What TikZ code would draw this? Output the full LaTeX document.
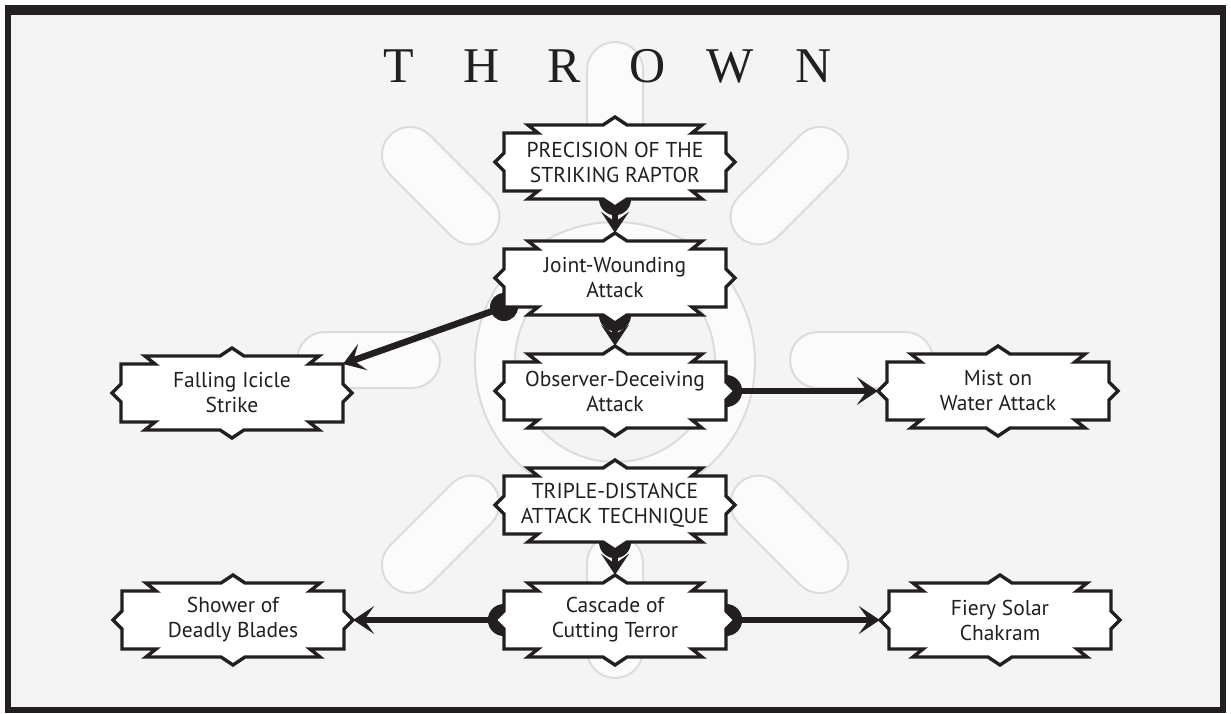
\documentclass[tikz,border=0pt]{standalone}
\usepackage{fontspec}
\setmainfont{Liberation Serif}
\newfontfamily\boxfont{PT Sans}
\usetikzlibrary{arrows.meta,calc}
\definecolor{ink}{HTML}{231F20}
\definecolor{paper}{HTML}{F4F4F4}
\definecolor{markedge}{HTML}{DCDCDC}
\definecolor{markfill}{HTML}{FBFBFB}
\pgfdeclarelayer{marks}
\pgfdeclarelayer{knobs}
\pgfdeclarelayer{shapes}
\pgfsetlayers{marks,knobs,shapes,main}
\def\scW{111}\def\scH{29}\def\scA{24}\def\scB{34}\def\scE{8}\def\scP{8}\def\scQ{12}\def\scD{9}\def\scS{9}
\tikzset{
  scrollline/.style={draw=ink, line width=3.4pt, fill=white, line join=miter},
  scrolltext/.style={font=\boxfont\fontsize{21.5}{25}\selectfont, text=ink, align=center,
    inner sep=0pt, minimum width=240pt, minimum height=90pt},
  link/.style={draw=ink, line width=6.5pt, -{Stealth[length=21pt,width=28pt,inset=10pt]}},
  knob/.style={fill=ink},
  capsule/.style={fill=markfill, draw=markedge, line width=2pt, rounded corners=27.9pt},
}
\newcommand\scroll[3]{%
  \node[scrolltext] (#1) at (#2) {#3};
  \begin{pgfonlayer}{shapes}
  \path[scrollline, shift={(#1.center)}]
    (-\scW,-\scH) -- (-\scW+\scB,-\scH) -- (-\scW+\scA,-\scH-\scE) -- (-\scQ,-\scH-\scE)
    -- (0,-\scH-\scE-\scP) -- (\scQ,-\scH-\scE) -- (\scW-\scA,-\scH-\scE) -- (\scW-\scB,-\scH)
    -- (\scW,-\scH) -- (\scW,-\scS) -- (\scW+\scD,0) -- (\scW,\scS) -- (\scW,\scH)
    -- (\scW-\scB,\scH) -- (\scW-\scA,\scH+\scE) -- (\scQ,\scH+\scE) -- (0,\scH+\scE+\scP)
    -- (-\scQ,\scH+\scE) -- (-\scW+\scA,\scH+\scE) -- (-\scW+\scB,\scH) -- (-\scW,\scH)
    -- (-\scW,\scS) -- (-\scW-\scD,0) -- (-\scW,-\scS) -- cycle;
  \end{pgfonlayer}}
\begin{document}
\begin{tikzpicture}[x=1pt,y=-1pt]
\useasboundingbox (0,0) rectangle (1231,713);
\begin{pgfonlayer}{marks}
  \fill[white] (0,0) rectangle (1231,713);
  \fill[ink] (5,5) rectangle (1226,713);
  \fill[paper] (11,15) rectangle (1220,707);
  \foreach \ang in {0,45,...,315}{
    \begin{scope}[shift={(615,360)}, rotate=\ang]
      \path[capsule] (175,-28) rectangle (318,28);
    \end{scope}}
  \path[fill=markfill, even odd rule] (615,362) circle (140) (615,362) circle (100);
  \draw[markedge, line width=2pt] (615,362) circle (140) (615,362) circle (100);
\end{pgfonlayer}

\node[text=ink, font=\fontsize{50}{50}\selectfont] (title) at (606,66)
  {\makebox[83pt]{T}\makebox[83pt]{H}\makebox[83pt]{R}\makebox[83pt]{O}\makebox[83pt]{W}\makebox[83pt]{N}};

\scroll{A}{615,162}{PRECISION OF THE\\STRIKING RAPTOR}
\scroll{B}{615,278}{Joint-Wounding\\Attack}
\scroll{C}{615,391}{Observer-Deceiving\\Attack}
\scroll{D}{232,393}{Falling Icicle\\Strike}
\scroll{E}{998,391}{Mist on\\Water Attack}
\scroll{F}{615,505}{TRIPLE-DISTANCE\\ATTACK TECHNIQUE}
\scroll{G}{615,620}{Cascade of\\Cutting Terror}
\scroll{H}{233,620}{Shower of\\Deadly Blades}
\scroll{I}{1000,620}{Fiery Solar\\Chakram}

\begin{pgfonlayer}{knobs}
  \fill[knob] ($(A.south)+(0,-8)$) circle (16);
  \fill[knob] ($(B.south)+(0,-8)$) circle (16);
  \fill[knob] ($(F.south)+(0,-8)$) circle (16);
  \fill[knob] ($(C.east)+(-9,0)$) circle (16);
  \fill[knob] ($(G.east)+(-9,0)$) circle (16);
  \fill[knob] ($(G.west)+(9,0)$) circle (16);
  \fill[knob] ($(B.center)+(-111,29)$) circle (14);
\end{pgfonlayer}

\draw[link] (A.south) -- (B.north);
\draw[link] (B.south) -- (C.north);
\draw[link] ($(B.center)+(-111,29)$) -- ($(D.center)+(111,-29)$);
\draw[link] (C.east) -- (E.west);
\draw[link] (F.south) -- (G.north);
\draw[link] (G.west) -- (H.east);
\draw[link] (G.east) -- (I.west);
\end{tikzpicture}
\end{document}
